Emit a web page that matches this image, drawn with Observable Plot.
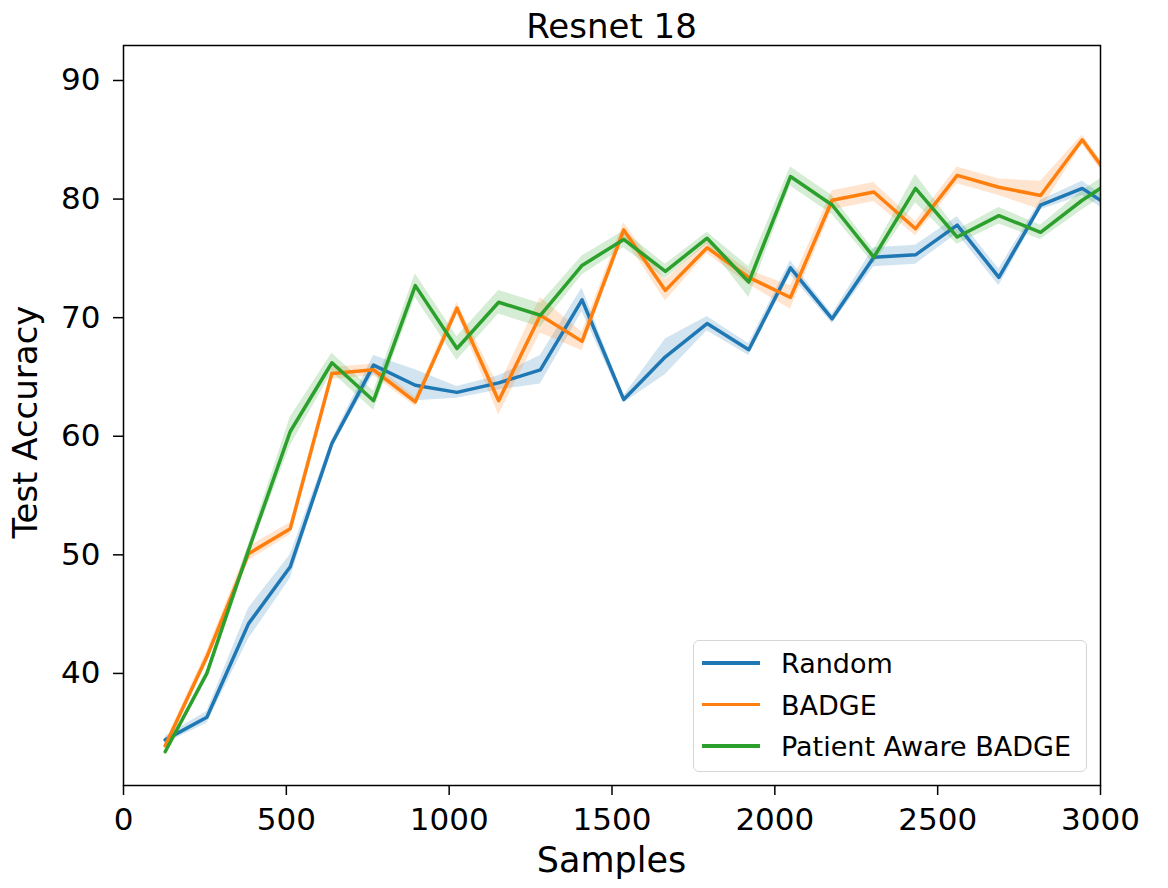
<!DOCTYPE html>
<html><head><meta charset="utf-8">
<script src="https://cdn.jsdelivr.net/npm/d3@7"></script>
<script src="https://cdn.jsdelivr.net/npm/@observablehq/plot@0.6"></script>
<style>
body{margin:0;background:#fff;font-family:"DejaVu Sans",sans-serif;color:#000;}
#wrap{position:relative;width:1168px;height:888px;overflow:hidden;}
#chart{position:absolute;left:0;top:0;}
.abs{position:absolute;line-height:1;white-space:nowrap;}
#title{left:123px;width:977px;top:9px;text-align:center;font-size:34px;}
#xlab{left:123px;width:977px;top:843px;text-align:center;font-size:35px;}
#ylab{left:-175px;top:405px;width:400px;height:34px;text-align:center;font-size:34px;transform:rotate(-90deg);}
#legend{position:absolute;left:693px;top:640px;width:394px;height:132px;border:1.5px solid #d6d6d6;border-radius:6px;background:rgba(255,255,255,0.8);box-sizing:border-box;}
.lline{position:absolute;height:3.5px;width:58px;}
.ltext{position:absolute;font-size:27px;line-height:1;white-space:nowrap;}
</style></head>
<body>
<div id="wrap">
<div id="chart"></div>
<div id="title" class="abs">Resnet 18</div>
<div id="xlab" class="abs">Samples</div>
<div id="ylab" class="abs">Test Accuracy</div>
<div id="legend"></div>
</div>
<script>
const seriesNames = ["Random", "BADGE", "Patient Aware BADGE"];
const seriesColors = ["#1f77b4", "#ff7f0e", "#2ca02c"];
const samples = [128, 256, 384, 512, 640, 768, 896, 1024, 1152, 1280, 1408, 1536, 1664, 1792, 1920, 2048, 2176, 2304, 2432, 2560, 2688, 2816, 2944, 3072];
const randomAcc  = [34.4, 36.3, 44.2, 49.0, 59.4, 66.0, 64.3, 63.7, 64.5, 65.6, 71.5, 63.1, 66.7, 69.5, 67.3, 74.2, 69.9, 75.1, 75.3, 77.8, 73.4, 79.5, 80.9, 78.6];
const badgeAcc   = [33.9, 41.4, 50.1, 52.2, 65.3, 65.6, 62.9, 70.8, 63.0, 70.2, 68.0, 77.4, 72.3, 75.9, 73.4, 71.7, 79.9, 80.6, 77.5, 82.0, 81.0, 80.3, 85.0, 80.2];
const patientAcc = [33.4, 40.0, 50.4, 60.4, 66.2, 63.0, 72.7, 67.4, 71.3, 70.2, 74.4, 76.6, 73.9, 76.7, 73.0, 81.9, 79.5, 75.1, 80.9, 76.8, 78.6, 77.2, 79.9, 82.2];
const randomCI  = [0.3, 0.5, 1.3, 1.0, 0.3, 0.8, 1.3, 0.5, 0.6, 1.2, 1.0, 0.3, 1.5, 0.6, 0.5, 0.6, 0.4, 0.8, 0.8, 0.7, 0.7, 0.4, 0.6, 0.5];
const badgeCI   = [0.3, 0.5, 0.6, 0.5, 0.5, 0.5, 0.4, 0.5, 1.2, 1.5, 0.8, 0.6, 0.9, 0.5, 0.6, 1.0, 0.8, 0.8, 0.6, 0.7, 0.7, 1.2, 0.4, 0.5];
const patientCI = [0.2, 0.3, 0.5, 1.2, 0.8, 0.8, 1.0, 1.0, 1.0, 1.0, 0.8, 0.7, 0.6, 0.5, 1.3, 0.8, 0.8, 0.6, 1.2, 0.6, 0.7, 0.6, 0.8, 0.8];
const xTicks = [0, 500, 1000, 1500, 2000, 2500, 3000];
const yTicks = [40, 50, 60, 70, 80, 90];

const accs = [randomAcc, badgeAcc, patientAcc];
const cis = [randomCI, badgeCI, patientCI];
const rows = [];
seriesNames.forEach((name, si) => {
  samples.forEach((s, i) => {
    rows.push({series: name, x: s, y: accs[si][i], lo: accs[si][i] - cis[si][i], hi: accs[si][i] + cis[si][i]});
  });
});

const chart = Plot.plot({
  width: 1168,
  height: 888,
  marginLeft: 123,
  marginRight: 68,
  marginTop: 45,
  marginBottom: 103,
  style: {fontFamily: "DejaVu Sans", color: "#000", background: "transparent"},
  x: {domain: [0, 3000]},
  y: {domain: [30.55, 92.95]},
  color: {domain: seriesNames, range: seriesColors},
  marks: [
    Plot.areaY(rows, {x: "x", y1: "lo", y2: "hi", z: "series", fill: "series", fillOpacity: 0.2, clip: true}),
    Plot.line(rows, {x: "x", y: "y", z: "series", stroke: "series", strokeWidth: 3.5, clip: true}),
    Plot.frame({stroke: "#000", strokeWidth: 1.5}),
    Plot.axisX({ticks: xTicks, tickFormat: d => String(d), tickSize: 10, tickPadding: 12, fontSize: 31, label: null, strokeWidth: 1.5}),
    Plot.axisY({ticks: yTicks, tickFormat: d => String(d), tickSize: 10, tickPadding: 13, fontSize: 31, label: null, strokeWidth: 1.5})
  ]
});
document.getElementById("chart").appendChild(chart);

const legend = document.getElementById("legend");
seriesNames.forEach((name, i) => {
  const cy = 22 + i * 41.5;
  const ln = document.createElement("div");
  ln.className = "lline";
  ln.style.left = "8px";
  ln.style.top = (cy - 1.75) + "px";
  ln.style.background = seriesColors[i];
  legend.appendChild(ln);
  const tx = document.createElement("div");
  tx.className = "ltext";
  tx.style.left = "87px";
  tx.style.top = (cy + 10 - 22.85) + "px";
  tx.textContent = name;
  legend.appendChild(tx);
});
</script>
</body></html>
